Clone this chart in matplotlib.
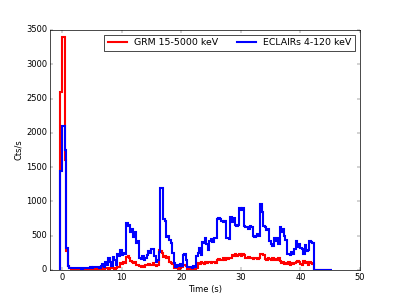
import numpy as np
import matplotlib
matplotlib.use('Agg')
import matplotlib.pyplot as plt

plt.style.use('classic')

# light curves, 0.25 s bins starting at t = -0.25 s
t_start = -0.25
bin_width = 0.25

grm = [2600, 3400, 3400, 1600, 280, 60, 25, 20,
       20, 15, 20, 15, 15, 20, 15, 15,
       15, 20, 15, 20, 20, 15, 20, 15,
       20, 25, 15, 20, 25, 20, 30, 25,
       20, 30, 25, 35, 20, 30, 40, 50,
       100, 90, 110, 100, 190, 200, 170, 130,
       120, 100, 110, 80, 70, 60, 50, 60,
       50, 70, 80, 90, 70, 80, 100, 70,
       60, 80, 290, 280, 250, 190, 200, 180,
       190, 120, 100, 90, 30, 25, 30, 20,
       25, 40, 80, 80, 60, 20, 25, 20,
       20, 25, 20, 30, 100, 90, 110, 100,
       90, 110, 100, 120, 110, 100, 120, 110,
       100, 150, 160, 140, 150, 170, 150, 170,
       160, 180, 170, 220, 200, 230, 210, 220,
       240, 200, 240, 220, 180, 170, 190, 170,
       170, 160, 180, 170, 160, 170, 240, 230,
       220, 160, 150, 170, 160, 140, 170, 150,
       160, 150, 170, 130, 100, 110, 90, 100,
       90, 110, 80, 100, 90, 100, 110, 130,
       120, 90, 80, 130, 100, 110, 80, 120,
       100, 90, 0, 0, 0, 0, 0, 0,
       0, 0, 0, 0, 0, 0]

eclairs = [1450, 2100, 2100, 1750, 320, 60, 30, 30,
           30, 25, 30, 25, 25, 30, 20, 25,
           25, 30, 25, 35, 40, 30, 45, 40,
           50, 40, 30, 60, 90, 50, 110, 70,
           170, 120, 60, 190, 150, 80, 230, 210,
           290, 220, 250, 230, 680, 640, 660, 560,
           600, 480, 550, 400, 420, 180, 160, 200,
           150, 170, 220, 280, 250, 300, 310, 200,
           120, 140, 260, 1190, 1190, 750, 720, 480,
           500, 440, 400, 250, 100, 50, 80, 60,
           90, 60, 220, 240, 150, 50, 40, 50,
           30, 60, 40, 200, 250, 320, 220, 410,
           400, 460, 380, 290, 430, 450, 410, 460,
           460, 740, 760, 740, 720, 700, 720, 470,
           460, 450, 780, 700, 760, 650, 640, 660,
           900, 880, 900, 640, 620, 630, 600, 640,
           620, 500, 480, 490, 530, 490, 960, 850,
           640, 620, 580, 600, 420, 380, 350, 460,
           420, 460, 380, 620, 560, 600, 500, 440,
           240, 230, 220, 260, 230, 300, 430, 340,
           380, 320, 300, 230, 360, 270, 290, 420,
           410, 400, 0, 0, 0, 0, 0, 0,
           0, 0, 0, 0, 0, 0]

edges = t_start + bin_width * np.arange(len(grm) + 1)

fig = plt.figure(figsize=(8, 6))
ax = fig.add_subplot(111)
ax.stairs(grm, edges, color='r', linewidth=3, label='GRM 15-5000 keV')
ax.stairs(eclairs, edges, color='b', linewidth=3, label='ECLAIRs 4-120 keV')
ax.set_xlim(-2, 50)
ax.set_ylim(0, 3500)
ax.set_xlabel('Time (s)', fontsize=12)
ax.set_ylabel('Cts/s', fontsize=12)
ax.legend(loc='upper right', ncol=2, fontsize=13.5)
fig.savefig('out.png', dpi=50)
